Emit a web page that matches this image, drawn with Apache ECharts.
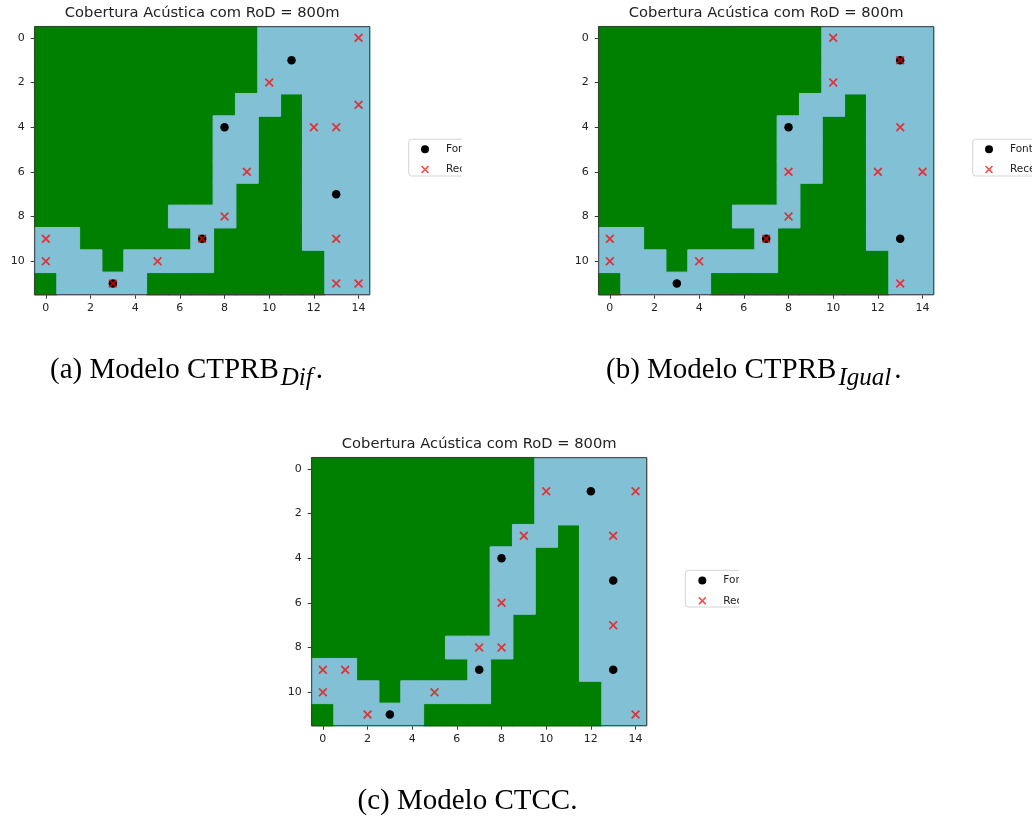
<!DOCTYPE html>
<html><head><meta charset="utf-8">
<script src="https://cdn.jsdelivr.net/npm/echarts@6.0.0/dist/echarts.min.js"></script>
<style>html,body{margin:0;padding:0;background:#fff}#c{width:1032px;height:816px}</style>
</head><body><div id="c"></div>
<script>
// ---- data ----
const xCats = ['0','1','2','3','4','5','6','7','8','9','10','11','12','13','14'];
const yCats = ['0','1','2','3','4','5','6','7','8','9','10','11'];
// 1 = coberto (azul), 0 = terra (verde); rows 0..11, cols 0..14
const terrain = [
  [0,0,0,0,0,0,0,0,0,0,1,1,1,1,1],
  [0,0,0,0,0,0,0,0,0,0,1,1,1,1,1],
  [0,0,0,0,0,0,0,0,0,0,1,1,1,1,1],
  [0,0,0,0,0,0,0,0,0,1,1,0,1,1,1],
  [0,0,0,0,0,0,0,0,1,1,0,0,1,1,1],
  [0,0,0,0,0,0,0,0,1,1,0,0,1,1,1],
  [0,0,0,0,0,0,0,0,1,1,0,0,1,1,1],
  [0,0,0,0,0,0,0,0,1,0,0,0,1,1,1],
  [0,0,0,0,0,0,1,1,1,0,0,0,1,1,1],
  [1,1,0,0,0,0,0,1,0,0,0,0,1,1,1],
  [1,1,1,0,1,1,1,1,0,0,0,0,0,1,1],
  [0,1,1,1,1,0,0,0,0,0,0,0,0,1,1]
];
const fontesDif = [[11,1],[8,4],[13,7],[7,9],[3,11]];
const receptoresDif = [[14,0],[10,2],[14,3],[12,4],[13,4],[9,6],[8,8],[0,9],[7,9],[13,9],[0,10],[5,10],[3,11],[13,11],[14,11]];
const fontesIgual = [[13,1],[8,4],[7,9],[13,9],[3,11]];
const receptoresIgual = [[10,0],[13,1],[10,2],[13,4],[8,6],[12,6],[14,6],[8,8],[0,9],[7,9],[0,10],[4,10],[13,11]];
const fontesCTCC = [[12,1],[8,4],[13,5],[7,9],[13,9],[3,11]];
const receptoresCTCC = [[10,1],[14,1],[9,3],[13,3],[8,6],[13,7],[7,8],[8,8],[0,9],[1,9],[0,10],[5,10],[2,11],[14,11]];
const titleText = 'Cobertura Acústica com RoD = 800m';
const legendNames = ['Fontes', 'Receptores'];

// ---- style / layout ----
const GREEN = '#008000', BLUE = '#82C0D5', RED = 'rgba(255,0,0,0.72)';
const XPATH = 'path://M1.4,0 L5,3.6 L8.6,0 L10,1.4 L6.4,5 L10,8.6 L8.6,10 L5,6.4 L1.4,10 L0,8.6 L3.6,5 L0,1.4 Z';
const panels = [
  {left: 34.7, top: 26.7, fontes: fontesDif, recept: receptoresDif, leg: [421, 143.7], box: [408.7, 139.3], clip: 461.7,
   cap: {x: 50, y: 370.5, pre: '(a) Modelo CTPRB', sub: 'Dif'}},
  {left: 598.7, top: 26.7, fontes: fontesIgual, recept: receptoresIgual, leg: [985, 143.7], box: [972.7, 139.3], clip: null,
   cap: {x: 606, y: 370.5, pre: '(b) Modelo CTPRB', sub: 'Igual'}},
  {left: 311.7, top: 457.7, fontes: fontesCTCC, recept: receptoresCTCC, leg: [698.3, 575], box: [685.3, 570.3], clip: 739,
   cap: {x: 357.5, y: 801, pre: '(c) Modelo CTCC', sub: ''}}
];
const W = 335, H = 268;

const landCells = [], waterCells = [];
terrain.forEach((row, r) => row.forEach((v, c) => (v ? waterCells : landCells).push([c, r, v])));

const chart = echarts.init(document.getElementById('c'), null, {renderer: 'canvas'});
const option = {
  animation: false,
  backgroundColor: '#fff',
  title: [], grid: [], xAxis: [], yAxis: [], legend: [], series: [], graphic: []
};
const tickFont = {fontSize: 11, color: '#222', fontFamily: 'DejaVu Sans'};
panels.forEach((p, i) => {
  option.grid.push({left: p.left, top: p.top, width: W, height: H, show: true, z: 10,
    backgroundColor: 'transparent', borderColor: '#3a3a3a', borderWidth: 1});
  option.title.push({text: titleText, left: p.left + W / 2, top: p.top - 21.7, textAlign: 'center', padding: 0,
    textStyle: {fontSize: 14.7, fontWeight: 'normal', color: '#222', fontFamily: 'DejaVu Sans', lineHeight: 16}});
  option.xAxis.push({gridIndex: i, type: 'category', data: xCats, boundaryGap: true,
    axisLine: {show: false}, splitLine: {show: false},
    axisTick: {show: true, alignWithLabel: true, interval: 1, length: 4, lineStyle: {color: '#3a3a3a', width: 1}},
    axisLabel: Object.assign({interval: 1, margin: 7.5}, tickFont)});
  option.yAxis.push({gridIndex: i, type: 'category', data: yCats, inverse: true, boundaryGap: true,
    axisLine: {show: false}, splitLine: {show: false},
    axisTick: {show: true, alignWithLabel: true, interval: 1, length: 4, lineStyle: {color: '#3a3a3a', width: 1}},
    axisLabel: Object.assign({interval: 1, margin: 10}, tickFont)});
  option.series.push({type: 'heatmap', name: 'terra', xAxisIndex: i, yAxisIndex: i, data: landCells, z: 2,
    emphasis: {disabled: true}, itemStyle: {color: GREEN, borderColor: GREEN, borderWidth: 1}});
  option.series.push({type: 'heatmap', name: 'cobertura', xAxisIndex: i, yAxisIndex: i, data: waterCells, z: 2,
    emphasis: {disabled: true}, itemStyle: {color: BLUE, borderColor: BLUE, borderWidth: 1}});
  option.series.push({type: 'scatter', name: 'Fontes', xAxisIndex: i, yAxisIndex: i, data: p.fontes, z: 3,
    symbol: 'circle', symbolSize: 8.5, itemStyle: {color: '#000', opacity: 1}, emphasis: {disabled: true}});
  option.series.push({type: 'scatter', name: 'Receptores', xAxisIndex: i, yAxisIndex: i, data: p.recept, z: 4,
    symbol: XPATH, symbolSize: 9, itemStyle: {color: RED, opacity: 1}, emphasis: {disabled: true}});
  option.legend.push({data: legendNames, orient: 'vertical', left: p.leg[0], top: p.leg[1], padding: 0,
    itemWidth: 32, itemHeight: 8, itemGap: 9.3, selectedMode: false, z: 20,
    textStyle: {fontSize: 10.5, color: '#222', fontFamily: 'DejaVu Sans', lineHeight: 8}});
  option.graphic.push({type: 'rect', z: 19, silent: true,
    shape: {x: p.box[0], y: p.box[1], width: 120, height: 36.7, r: 3},
    style: {fill: 'rgba(255,255,255,0.8)', stroke: '#d4d4d4', lineWidth: 1}});
  if (p.clip) {
    option.graphic.push({type: 'rect', z: 100, silent: true,
      shape: {x: p.clip, y: p.box[1] - 6, width: 110, height: 50}, style: {fill: '#fff'}});
  }
  const rich = {s: {fontSize: 25, fontStyle: 'italic', fontFamily: 'Liberation Serif', fill: '#000', padding: [15, 3, 0, 2]}};
  option.graphic.push({type: 'text', z: 50, silent: true, x: p.cap.x, y: p.cap.y,
    style: {text: p.cap.pre + (p.cap.sub ? '{s|' + p.cap.sub + '}' : '') + '.', rich: rich,
      fontSize: 29, fontFamily: 'Liberation Serif', fill: '#000', verticalAlign: 'middle', align: 'left'}});
});
chart.setOption(option);
</script></body></html>
